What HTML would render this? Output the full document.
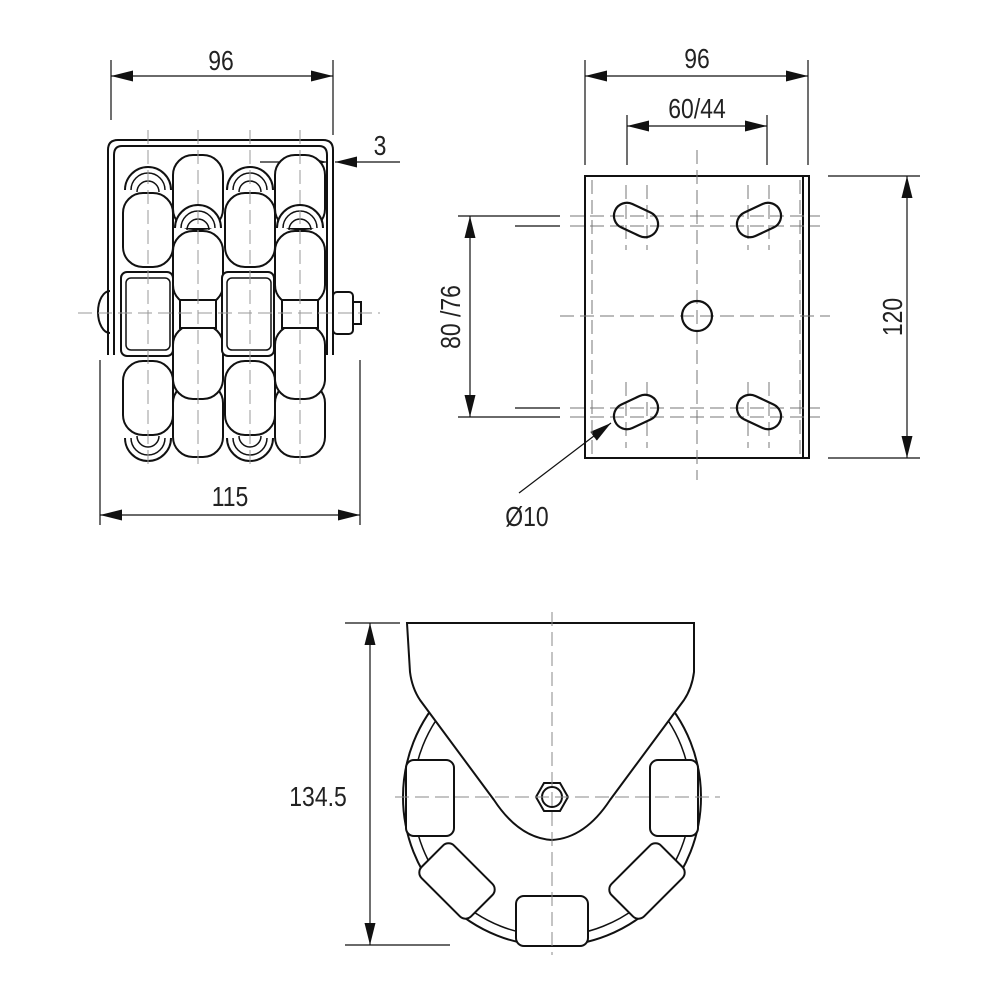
<!DOCTYPE html>
<html><head><meta charset="utf-8"><style>html,body{margin:0;padding:0;background:#fff}svg{display:block}text{font-family:"Liberation Sans",sans-serif;fill:#222}</style></head>
<body>
<svg width="1000" height="1000" viewBox="0 0 1000 1000" xmlns="http://www.w3.org/2000/svg">
<defs>
<marker id="b" viewBox="0 0 20 10" refX="20" refY="5" markerWidth="22" markerHeight="11" markerUnits="userSpaceOnUse" orient="auto-start-reverse"><path d="M0,0 L20,5 L0,10z" fill="#111"/></marker>
<g id="rl"><rect x="-25" y="-37" width="50" height="74" rx="20" fill="#fff" stroke="#111" stroke-width="2"/></g>
<g id="sm"><path d="M-23,0 a23,23 0 0 1 46,0" fill="#fff" stroke="#111" stroke-width="2"/><path d="M-17,0 a17,17 0 0 1 34,0" fill="none" stroke="#111" stroke-width="1.5"/><path d="M-11,2 a11,11 0 0 1 22,0" fill="none" stroke="#111" stroke-width="1.5"/></g>
</defs>
<g stroke="#111" fill="none" stroke-width="1.2">
<line x1="111" y1="60" x2="111" y2="120"/><line x1="333" y1="60" x2="333" y2="135"/>
<line x1="111" y1="76" x2="333" y2="76" marker-start="url(#b)" marker-end="url(#b)"/>
<line x1="100" y1="360" x2="100" y2="525"/><line x1="360" y1="360" x2="360" y2="525"/>
<line x1="100" y1="515" x2="360" y2="515" marker-start="url(#b)" marker-end="url(#b)"/>
<line x1="260" y1="162" x2="327" y2="162" marker-end="url(#b)"/>
<line x1="400" y1="162" x2="335" y2="162" marker-end="url(#b)"/>
</g>
<g font-size="28" text-anchor="middle">
<text transform="translate(221,70) scale(0.82,1)">96</text>
<text transform="translate(230,506) scale(0.82,1)">115</text>
<text transform="translate(380,155) scale(0.82,1)">3</text>
</g>
<g stroke="#111" stroke-width="2" fill="#fff">
<path d="M110,291 a12,21 0 0 0 0,42"/>
<rect x="333" y="292" width="20" height="42" rx="4"/><rect x="353" y="302" width="8" height="22"/>
</g>
<path d="M108,355 L108,150 Q108,140 118,140 L323,140 Q333,140 333,150 L333,355" fill="none" stroke="#111" stroke-width="2"/>
<path d="M114,355 L114,155 Q114,146 122,146 L319,146 Q327,146 327,155 L327,355" fill="none" stroke="#111" stroke-width="2"/>
<g>
<use href="#sm" x="148" y="190"/><use href="#sm" x="250" y="190"/>
<use href="#rl" x="148" y="230"/><use href="#rl" x="250" y="230"/>
<g transform="translate(148,438) scale(1,-1)"><use href="#sm"/></g><g transform="translate(250,438) scale(1,-1)"><use href="#sm"/></g>
<use href="#rl" x="148" y="398"/><use href="#rl" x="250" y="398"/>
<use href="#rl" x="198" y="192"/><use href="#rl" x="300" y="192"/>
<use href="#rl" x="198" y="420"/><use href="#rl" x="300" y="420"/>
<use href="#sm" x="198" y="228"/><use href="#sm" x="300" y="228"/>
<use href="#rl" x="198" y="268"/><use href="#rl" x="300" y="268"/>
<use href="#rl" x="198" y="362"/><use href="#rl" x="300" y="362"/>
<rect x="180" y="300" width="36" height="28" fill="#fff" stroke="#111" stroke-width="2"/>
<rect x="282" y="300" width="36" height="28" fill="#fff" stroke="#111" stroke-width="2"/>
<rect x="121" y="272" width="52" height="84" rx="6" fill="#fff" stroke="#111" stroke-width="2"/>
<rect x="126" y="278" width="44" height="72" rx="5" fill="#fff" stroke="#111" stroke-width="1.5"/>
<rect x="222" y="272" width="52" height="84" rx="6" fill="#fff" stroke="#111" stroke-width="2"/>
<rect x="227" y="278" width="44" height="72" rx="5" fill="#fff" stroke="#111" stroke-width="1.5"/>
</g>
<g stroke="#999" stroke-width="1" stroke-dasharray="14,6">
<line x1="78" y1="313" x2="380" y2="313"/>
<line x1="148" y1="130" x2="148" y2="465"/><line x1="198" y1="130" x2="198" y2="465"/><line x1="250" y1="130" x2="250" y2="465"/><line x1="300" y1="130" x2="300" y2="465"/>
</g>
<g stroke="#111" fill="none" stroke-width="1.2">
<line x1="585" y1="60" x2="585" y2="165"/><line x1="808" y1="60" x2="808" y2="165"/>
<line x1="585" y1="76" x2="808" y2="76" marker-start="url(#b)" marker-end="url(#b)"/>
<line x1="627" y1="115" x2="627" y2="165"/><line x1="767" y1="115" x2="767" y2="165"/>
<line x1="627" y1="126" x2="767" y2="126" marker-start="url(#b)" marker-end="url(#b)"/>
<line x1="828" y1="176" x2="920" y2="176"/><line x1="828" y1="458" x2="920" y2="458"/>
<line x1="907" y1="176" x2="907" y2="458" marker-start="url(#b)" marker-end="url(#b)"/>
<line x1="458" y1="216" x2="560" y2="216"/><line x1="458" y1="417" x2="560" y2="417"/>
<line x1="515" y1="226" x2="560" y2="226"/><line x1="515" y1="408" x2="560" y2="408"/>
<line x1="470" y1="216" x2="470" y2="417" marker-start="url(#b)" marker-end="url(#b)"/>
<line x1="519" y1="493" x2="611" y2="423" marker-end="url(#b)"/>
</g>
<g font-size="28" text-anchor="middle">
<text transform="translate(697,68) scale(0.82,1)">96</text>
<text transform="translate(697,118) scale(0.82,1)">60/44</text>
<text transform="translate(902,317) rotate(-90) scale(0.82,1)">120</text>
<text transform="translate(460,317) rotate(-90) scale(0.82,1)">80 /76</text>
<text transform="translate(527,526) scale(0.82,1)">Ø10</text>
<text transform="translate(318,806) scale(0.82,1)">134.5</text>
</g>
<rect x="585" y="176" width="224" height="282" fill="none" stroke="#111" stroke-width="2"/>
<line x1="803" y1="176" x2="803" y2="458" stroke="#111" stroke-width="2"/>
<g stroke="#777" stroke-width="1" stroke-dasharray="14,6" fill="none">
<line x1="592" y1="180" x2="592" y2="455"/><line x1="800" y1="180" x2="800" y2="455"/>
<line x1="697" y1="150" x2="697" y2="480"/><line x1="560" y1="316" x2="830" y2="316"/>
<line x1="570" y1="216" x2="820" y2="216"/><line x1="570" y1="226" x2="820" y2="226"/>
<line x1="570" y1="408" x2="820" y2="408"/><line x1="570" y1="417" x2="820" y2="417"/>
<line x1="626" y1="185" x2="626" y2="250"/><line x1="647" y1="185" x2="647" y2="250"/>
<line x1="748" y1="185" x2="748" y2="250"/><line x1="769" y1="185" x2="769" y2="250"/>
<line x1="626" y1="382" x2="626" y2="448"/><line x1="647" y1="382" x2="647" y2="448"/>
<line x1="748" y1="382" x2="748" y2="448"/><line x1="769" y1="382" x2="769" y2="448"/>
</g>
<g stroke="#111" stroke-width="2.2" fill="none">
<circle cx="697" cy="316" r="15"/>
<rect x="613" y="207" width="46" height="26" rx="13" transform="rotate(25 636 220)"/>
<rect x="736" y="207" width="46" height="26" rx="13" transform="rotate(-25 759 220)"/>
<rect x="613" y="399" width="46" height="26" rx="13" transform="rotate(-25 636 412)"/>
<rect x="736" y="399" width="46" height="26" rx="13" transform="rotate(25 759 412)"/>
</g>
<g stroke="#111" fill="none" stroke-width="1.2">
<line x1="345" y1="623" x2="400" y2="623"/><line x1="345" y1="945" x2="450" y2="945"/>
<line x1="370" y1="623" x2="370" y2="945" marker-start="url(#b)" marker-end="url(#b)"/>
</g>
<g stroke="#111" stroke-width="2" fill="#fff">
<circle cx="552" cy="797" r="149"/>
<circle cx="552" cy="797" r="139" stroke-width="1.5"/>
<rect x="406" y="760" width="48" height="76" rx="8"/>
<rect x="650" y="760" width="48" height="76" rx="8"/>
<rect x="516" y="896" width="72" height="50" rx="8"/>
<rect x="434" y="846" width="46" height="70" rx="8" transform="rotate(-45 457 881)"/>
<rect x="624" y="846" width="46" height="70" rx="8" transform="rotate(45 647 881)"/>
<path d="M407,623 L694,623 L694,672 Q692,688 684,700 L610,800 Q585,838 552,840 Q519,838 494,800 L420,700 Q412,688 410,672 Z"/>
<polygon points="536,797 544,783 560,783 568,797 560,811 544,811"/>
<circle cx="552" cy="797" r="10"/>
</g>
<g stroke="#888" stroke-width="1" stroke-dasharray="14,6">
<line x1="552" y1="612" x2="552" y2="955"/><line x1="395" y1="797" x2="720" y2="797"/>
</g>
</svg>
</body></html>
